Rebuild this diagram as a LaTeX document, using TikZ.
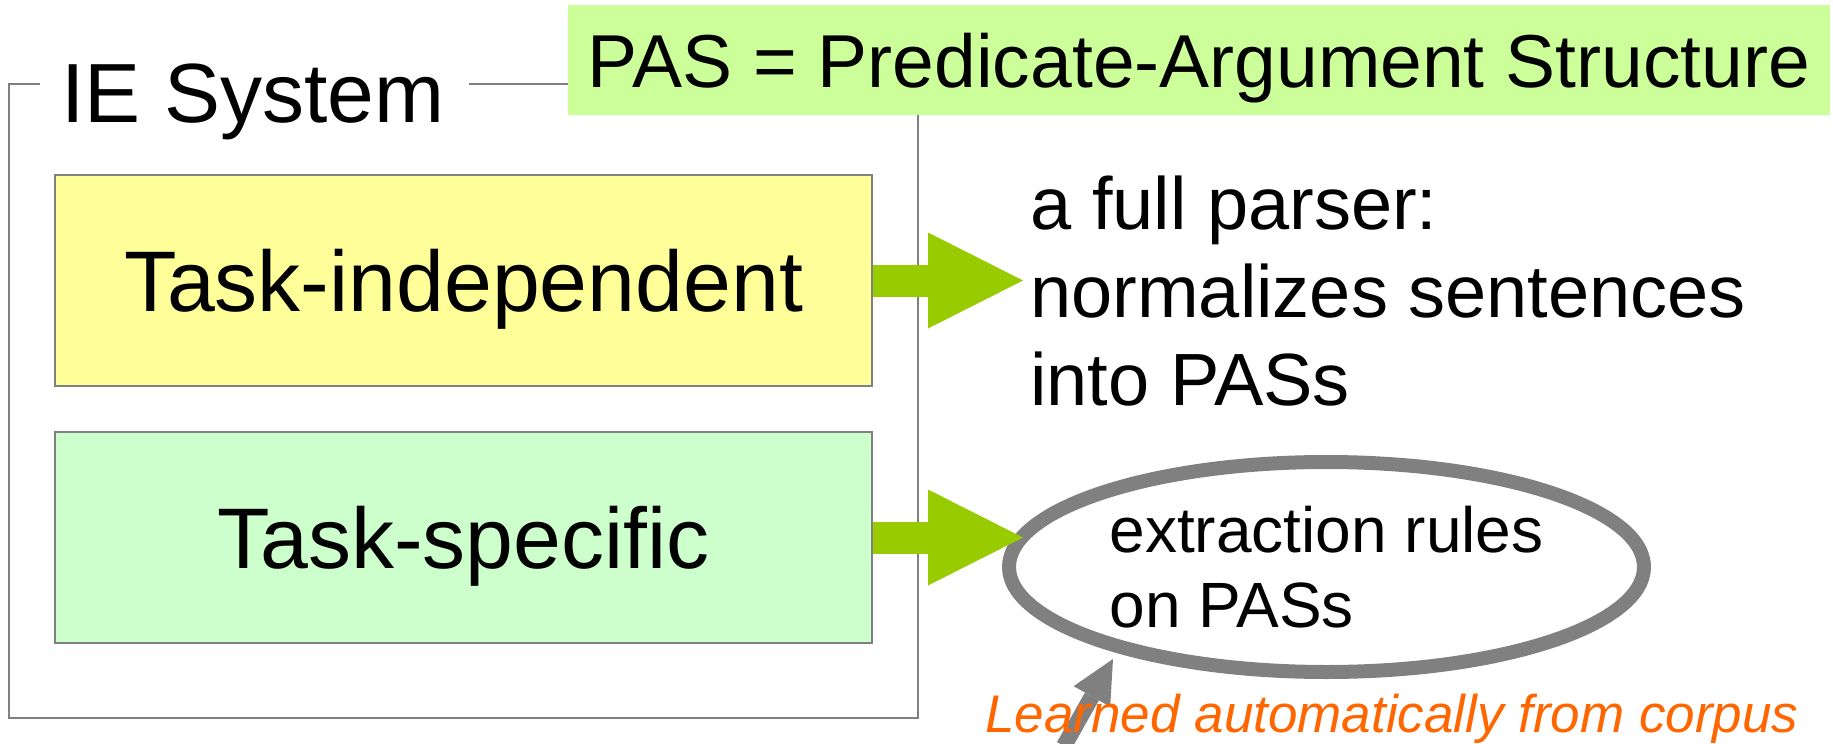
\documentclass[tikz,border=0pt]{standalone}
\usepackage{fontspec}
\setmainfont{Liberation Sans}
\usetikzlibrary{shapes.geometric,arrows.meta}

\definecolor{pasgreen}{HTML}{CCFF99}
\definecolor{indepyellow}{HTML}{FFFF99}
\definecolor{specgreen}{HTML}{CCFFCC}
\definecolor{arrowgreen}{HTML}{99CC00}
\definecolor{framegray}{HTML}{808080}
\definecolor{learnorange}{HTML}{FF6600}

\tikzset{
    taskbox/.style={draw=framegray, line width=0.7pt, minimum width=408.5pt, minimum height=105.5pt,
        inner sep=0pt, text depth=0pt, font=\fontsize{43}{50}\selectfont},
    bigarrow/.style={arrowgreen, line width=16pt, shorten >=-10.5pt,
        -{Triangle[length=47.5pt, width=48pt, line width=0pt]}},
    pointer/.style={framegray, line width=8pt,
        -{Triangle[length=21.5pt, width=21pt, line width=0pt]}},
}

\begin{document}
\begin{tikzpicture}[x=0.5pt, y=-0.5pt]
    \useasboundingbox (0,0) rectangle (1833,744);

    % the IE system frame
    \draw[framegray, line width=0.65pt] (40,84) -- (9,84) -- (9,718) -- (918,718) -- (918,84) -- (469,84);
    \node[anchor=base west, inner sep=0pt, font=\fontsize{42}{50}\selectfont] (ietitle) at (61,122) {IE System};

    \node[fill=pasgreen, minimum width=631pt, minimum height=55pt, inner sep=0pt, text depth=0pt,
        font=\fontsize{37.5}{44}\selectfont] (pas) at (1199,60) {PAS = Predicate-Argument Structure};

    \node[taskbox, fill=indepyellow] (indep) at (463.5,280.5) {Task-independent};
    \node[taskbox, fill=specgreen] (spec) at (463.5,537.5) {Task-specific};

    \node[anchor=base west, align=left, inner sep=0pt, font=\fontsize{37}{44}\selectfont] (parser) at (1030,405)
        {a full parser:\\normalizes sentences\\into PASs};

    \node[ellipse, draw=framegray, line width=7pt, minimum width=317.5pt, minimum height=105pt,
        inner sep=0pt, align=left, font=\fontsize{32}{37.5}\selectfont] (rules) at (1326.5,567)
        {extraction rules\\on PASs};

    \draw[bigarrow] (indep) -- (indep -| rules.west);
    \draw[bigarrow] (spec) -- (spec -| rules.west);

    % learned part
    \coordinate (learnfrom) at (1064,746);
    \coordinate (learnto) at (1113,659);
    \draw[pointer] (learnfrom) -- (learnto);
    \node[anchor=base west, inner sep=0pt, text=learnorange, font=\fontsize{26.5}{30}\selectfont\itshape] (learned)
        at (985,732) {Learned automatically from corpus};
\end{tikzpicture}
\end{document}
